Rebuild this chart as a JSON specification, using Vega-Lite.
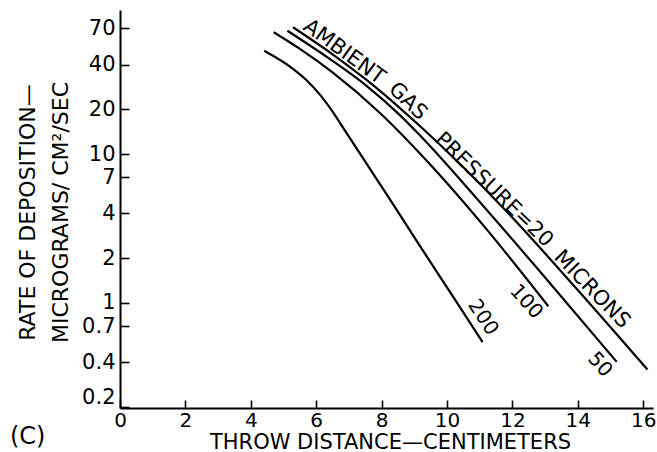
{
  "$schema": "https://vega.github.io/schema/vega-lite/v6.json",
  "width": 533,
  "height": 398,
  "autosize": {"type": "none"},
  "padding": {"left": 120, "top": 10, "right": 4, "bottom": 44},
  "background": "white",
  "config": {"view": {"stroke": null}, "font": "DejaVu Sans"},
  "title": {"text": "(C)", "orient": "bottom", "anchor": "start", "frame": "group", "fontSize": 24, "fontWeight": "normal", "color": "black", "dx": -110, "offset": -27},
  "datasets": {
    "curves": [
      {"p": "200", "x": 4.41, "y": 49.5},
      {"p": "200", "x": 5.30, "y": 37.3},
      {"p": "200", "x": 5.69, "y": 31.6},
      {"p": "200", "x": 6.12, "y": 25.0},
      {"p": "200", "x": 6.48, "y": 19.6},
      {"p": "200", "x": 6.83, "y": 14.98},
      {"p": "200", "x": 8.16, "y": 5.35},
      {"p": "200", "x": 9.17, "y": 2.42},
      {"p": "200", "x": 10.19, "y": 1.10},
      {"p": "200", "x": 11.09, "y": 0.546},
      {"p": "100", "x": 4.70, "y": 65.9},
      {"p": "100", "x": 5.49, "y": 51.1},
      {"p": "100", "x": 6.50, "y": 35.4},
      {"p": "100", "x": 7.95, "y": 18.9},
      {"p": "100", "x": 9.57, "y": 8.13},
      {"p": "100", "x": 11.22, "y": 3.11},
      {"p": "100", "x": 13.10, "y": 0.95},
      {"p": "50", "x": 5.12, "y": 67.5},
      {"p": "50", "x": 6.51, "y": 42.2},
      {"p": "50", "x": 7.54, "y": 28.8},
      {"p": "50", "x": 8.56, "y": 18.3},
      {"p": "50", "x": 9.17, "y": 13.4},
      {"p": "50", "x": 11.31, "y": 3.99},
      {"p": "50", "x": 13.24, "y": 1.287},
      {"p": "50", "x": 15.19, "y": 0.402},
      {"p": "20", "x": 5.29, "y": 71.2},
      {"p": "20", "x": 6.51, "y": 46.7},
      {"p": "20", "x": 7.54, "y": 31.5},
      {"p": "20", "x": 8.56, "y": 20.4},
      {"p": "20", "x": 9.23, "y": 15.05},
      {"p": "20", "x": 11.78, "y": 4.22},
      {"p": "20", "x": 13.93, "y": 1.27},
      {"p": "20", "x": 16.13, "y": 0.357}
    ],
    "labels": [
      {"label": "200", "x": 11.1, "y": 0.80},
      {"label": "100", "x": 12.42, "y": 1.02},
      {"label": "50", "x": 14.68, "y": 0.385},
      {"label": "AMBIENT", "x": 6.85, "y": 48.6},
      {"label": "GAS", "x": 8.80, "y": 22.6},
      {"label": "PRESSURE=20", "x": 11.43, "y": 5.75},
      {"label": "MICRONS", "x": 14.43, "y": 1.23}
    ]
  },
  "layer": [
    {
      "data": {"name": "curves"},
      "mark": {"type": "line", "color": "black", "strokeWidth": 2.2, "interpolate": "monotone"},
      "encoding": {
        "x": {
          "field": "x", "type": "quantitative",
          "scale": {"domain": [0, 16.3], "nice": false, "zero": false},
          "axis": {
            "title": "THROW DISTANCE—CENTIMETERS",
            "values": [0, 1, 2, 3, 4, 5, 6, 7, 8, 9, 10, 11, 12, 13, 14, 15, 16],
            "format": "d",
            "labelExpr": "datum.value % 2 === 0 ? datum.label : ''",
            "grid": false,
            "tickSize": -8, "tickWidth": 1.6, "tickColor": "black",
            "domainColor": "black", "domainWidth": 2,
            "labelFontSize": 20, "labelColor": "black", "labelPadding": 10, "labelFlush": false,
            "titleFontSize": 21, "titleFontWeight": "normal", "titleColor": "black",
            "titleX": 270, "titleY": 34, "titleBaseline": "middle"
          }
        },
        "y": {
          "field": "y", "type": "quantitative",
          "scale": {"type": "log", "domain": [0.197, 93], "nice": false},
          "axis": {
            "title": ["RATE OF DEPOSITION—", "MICROGRAMS/ CM²/SEC"],
            "values": [0.2, 0.4, 0.7, 1, 2, 4, 7, 10, 20, 40, 70],
            "format": "~g",
            "grid": false,
            "tickSize": -9, "tickWidth": 1.6, "tickColor": "black",
            "domainColor": "black", "domainWidth": 2,
            "labelFontSize": 21, "labelColor": "black", "labelPadding": 14, "labelFlush": true,
            "titleFontSize": 22, "titleFontWeight": "normal", "titleColor": "black",
            "titleLineHeight": 33, "titleX": -93, "titleY": 202, "titleBaseline": "middle", "titleAlign": "center", "titleAngle": -90
          }
        },
        "detail": {"field": "p"}
      }
    },
    {
      "data": {"name": "labels"},
      "transform": [{"filter": "datum.label === '200'"}],
      "mark": {"type": "text", "angle": 57, "fontSize": 20, "align": "center", "baseline": "middle", "color": "black"},
      "encoding": {"x": {"field": "x", "type": "quantitative"}, "y": {"field": "y", "type": "quantitative"}, "text": {"field": "label"}}
    },
    {
      "data": {"name": "labels"},
      "transform": [{"filter": "datum.label === '100' || datum.label === '50'"}],
      "mark": {"type": "text", "angle": 48, "fontSize": 20, "align": "center", "baseline": "middle", "color": "black"},
      "encoding": {"x": {"field": "x", "type": "quantitative"}, "y": {"field": "y", "type": "quantitative"}, "text": {"field": "label"}}
    },
    {
      "data": {"name": "labels"},
      "transform": [{"filter": "datum.label === 'AMBIENT'"}],
      "mark": {"type": "text", "angle": 36, "fontSize": 21, "align": "center", "baseline": "middle", "color": "black"},
      "encoding": {"x": {"field": "x", "type": "quantitative"}, "y": {"field": "y", "type": "quantitative"}, "text": {"field": "label"}}
    },
    {
      "data": {"name": "labels"},
      "transform": [{"filter": "datum.label === 'GAS' || datum.label === 'PRESSURE=20'"}],
      "mark": {"type": "text", "angle": 44, "fontSize": 21, "align": "center", "baseline": "middle", "color": "black"},
      "encoding": {"x": {"field": "x", "type": "quantitative"}, "y": {"field": "y", "type": "quantitative"}, "text": {"field": "label"}}
    },
    {
      "data": {"name": "labels"},
      "transform": [{"filter": "datum.label === 'MICRONS'"}],
      "mark": {"type": "text", "angle": 46, "fontSize": 21, "align": "center", "baseline": "middle", "color": "black"},
      "encoding": {"x": {"field": "x", "type": "quantitative"}, "y": {"field": "y", "type": "quantitative"}, "text": {"field": "label"}}
    }
  ]
}
